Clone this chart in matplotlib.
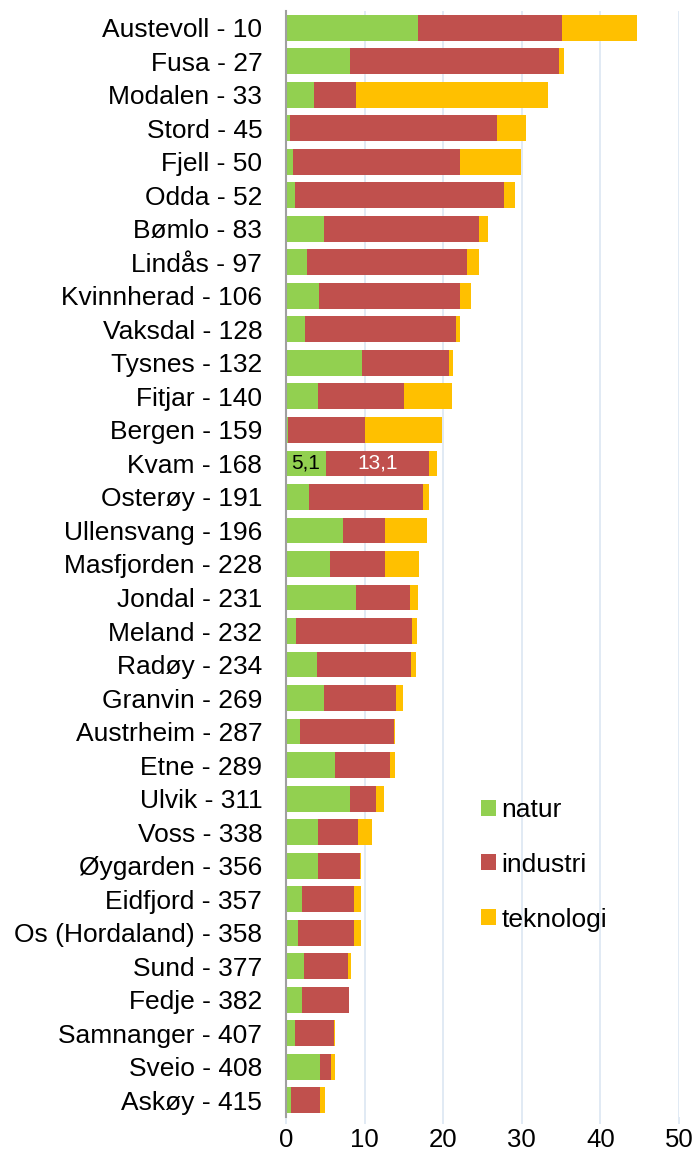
import matplotlib.pyplot as plt

plt.rcParams['font.family'] = ['Liberation Sans', 'DejaVu Sans']

kommuner = ["Austevoll - 10", "Fusa - 27", "Modalen - 33", "Stord - 45", "Fjell - 50",
            "Odda - 52", "Bømlo - 83", "Lindås - 97", "Kvinnherad - 106", "Vaksdal - 128",
            "Tysnes - 132", "Fitjar - 140", "Bergen - 159", "Kvam - 168", "Osterøy - 191",
            "Ullensvang - 196", "Masfjorden - 228", "Jondal - 231", "Meland - 232",
            "Radøy - 234", "Granvin - 269", "Austrheim - 287", "Etne - 289", "Ulvik - 311",
            "Voss - 338", "Øygarden - 356", "Eidfjord - 357", "Os (Hordaland) - 358",
            "Sund - 377", "Fedje - 382", "Samnanger - 407", "Sveio - 408", "Askøy - 415"]

natur = [16.8, 8.1, 3.6, 0.5, 0.9, 1.1, 4.8, 2.7, 4.2, 2.4, 9.7, 4.1, 0.25, 5.1, 2.9,
         7.3, 5.6, 8.9, 1.3, 3.9, 4.8, 1.8, 6.2, 8.2, 4.1, 4.1, 2.0, 1.5, 2.3, 2.1, 1.1,
         4.3, 0.7]
industri = [18.3, 26.6, 5.3, 26.4, 21.3, 26.6, 19.8, 20.4, 18.0, 19.3, 11.0, 10.9, 9.8,
            13.1, 14.5, 5.3, 7.0, 6.9, 14.8, 12.0, 9.2, 11.9, 7.0, 3.2, 5.1, 5.3, 6.6,
            7.2, 5.6, 5.9, 5.0, 1.4, 3.6]
teknologi = [9.6, 0.7, 24.5, 3.7, 7.7, 1.5, 1.1, 1.4, 1.4, 0.4, 0.6, 6.1, 9.8, 1.0, 0.8,
             5.3, 4.3, 1.0, 0.6, 0.7, 0.9, 0.2, 0.7, 1.1, 1.7, 0.2, 1.0, 0.9, 0.4, 0.0,
             0.2, 0.5, 0.7]

green = "#92D050"
red = "#C0504D"
yellow = "#FFC000"
gridc = "#dce6f2"
fs = 19

fig = plt.figure(figsize=(6.94, 11.51), dpi=100)
ax = fig.add_axes([0.412, 0.0295, 0.5663, 0.961])

y = list(range(len(kommuner)))
h = 0.77
left2 = [a + b for a, b in zip(natur, industri)]
ax.barh(y, natur, height=h, color=green, label="natur", zorder=3)
ax.barh(y, industri, left=natur, height=h, color=red, label="industri", zorder=3)
ax.barh(y, teknologi, left=left2, height=h, color=yellow, label="teknologi", zorder=3)

# data labels for Kvam
k = kommuner.index("Kvam - 168")
ax.text(natur[k] / 2, k, f"{natur[k]:.1f}".replace(".", ","), ha="center", va="center",
        fontsize=15, color="black", zorder=4)
ax.text(natur[k] + industri[k] / 2, k, f"{industri[k]:.1f}".replace(".", ","),
        ha="center", va="center", fontsize=15, color="white", zorder=4)

ax.set_ylim(len(kommuner) - 0.5, -0.5)
ax.set_xlim(0, 50)
ax.set_yticks(y)
ax.set_yticklabels(kommuner, fontsize=fs)
ax.set_xticks([0, 10, 20, 30, 40, 50])
ax.tick_params(axis="x", labelsize=18.5, length=5, color=gridc, width=1.2, pad=3)
ax.tick_params(axis="y", length=0, pad=17)

ax.grid(axis="x", color=gridc, linewidth=1.2, zorder=0)
for s in ["top", "right", "bottom"]:
    ax.spines[s].set_visible(False)
ax.spines["left"].set_color("#a0a0a0")
ax.spines["left"].set_linewidth(1.5)
ax.spines["left"].set_zorder(5)

ax.legend(loc="upper left", bbox_to_anchor=(0.437, 0.31), frameon=False, fontsize=fs,
          labelspacing=1.17, handlelength=0.55, handleheight=0.55, handletextpad=0.2)

fig.savefig("out.png", dpi=100)
